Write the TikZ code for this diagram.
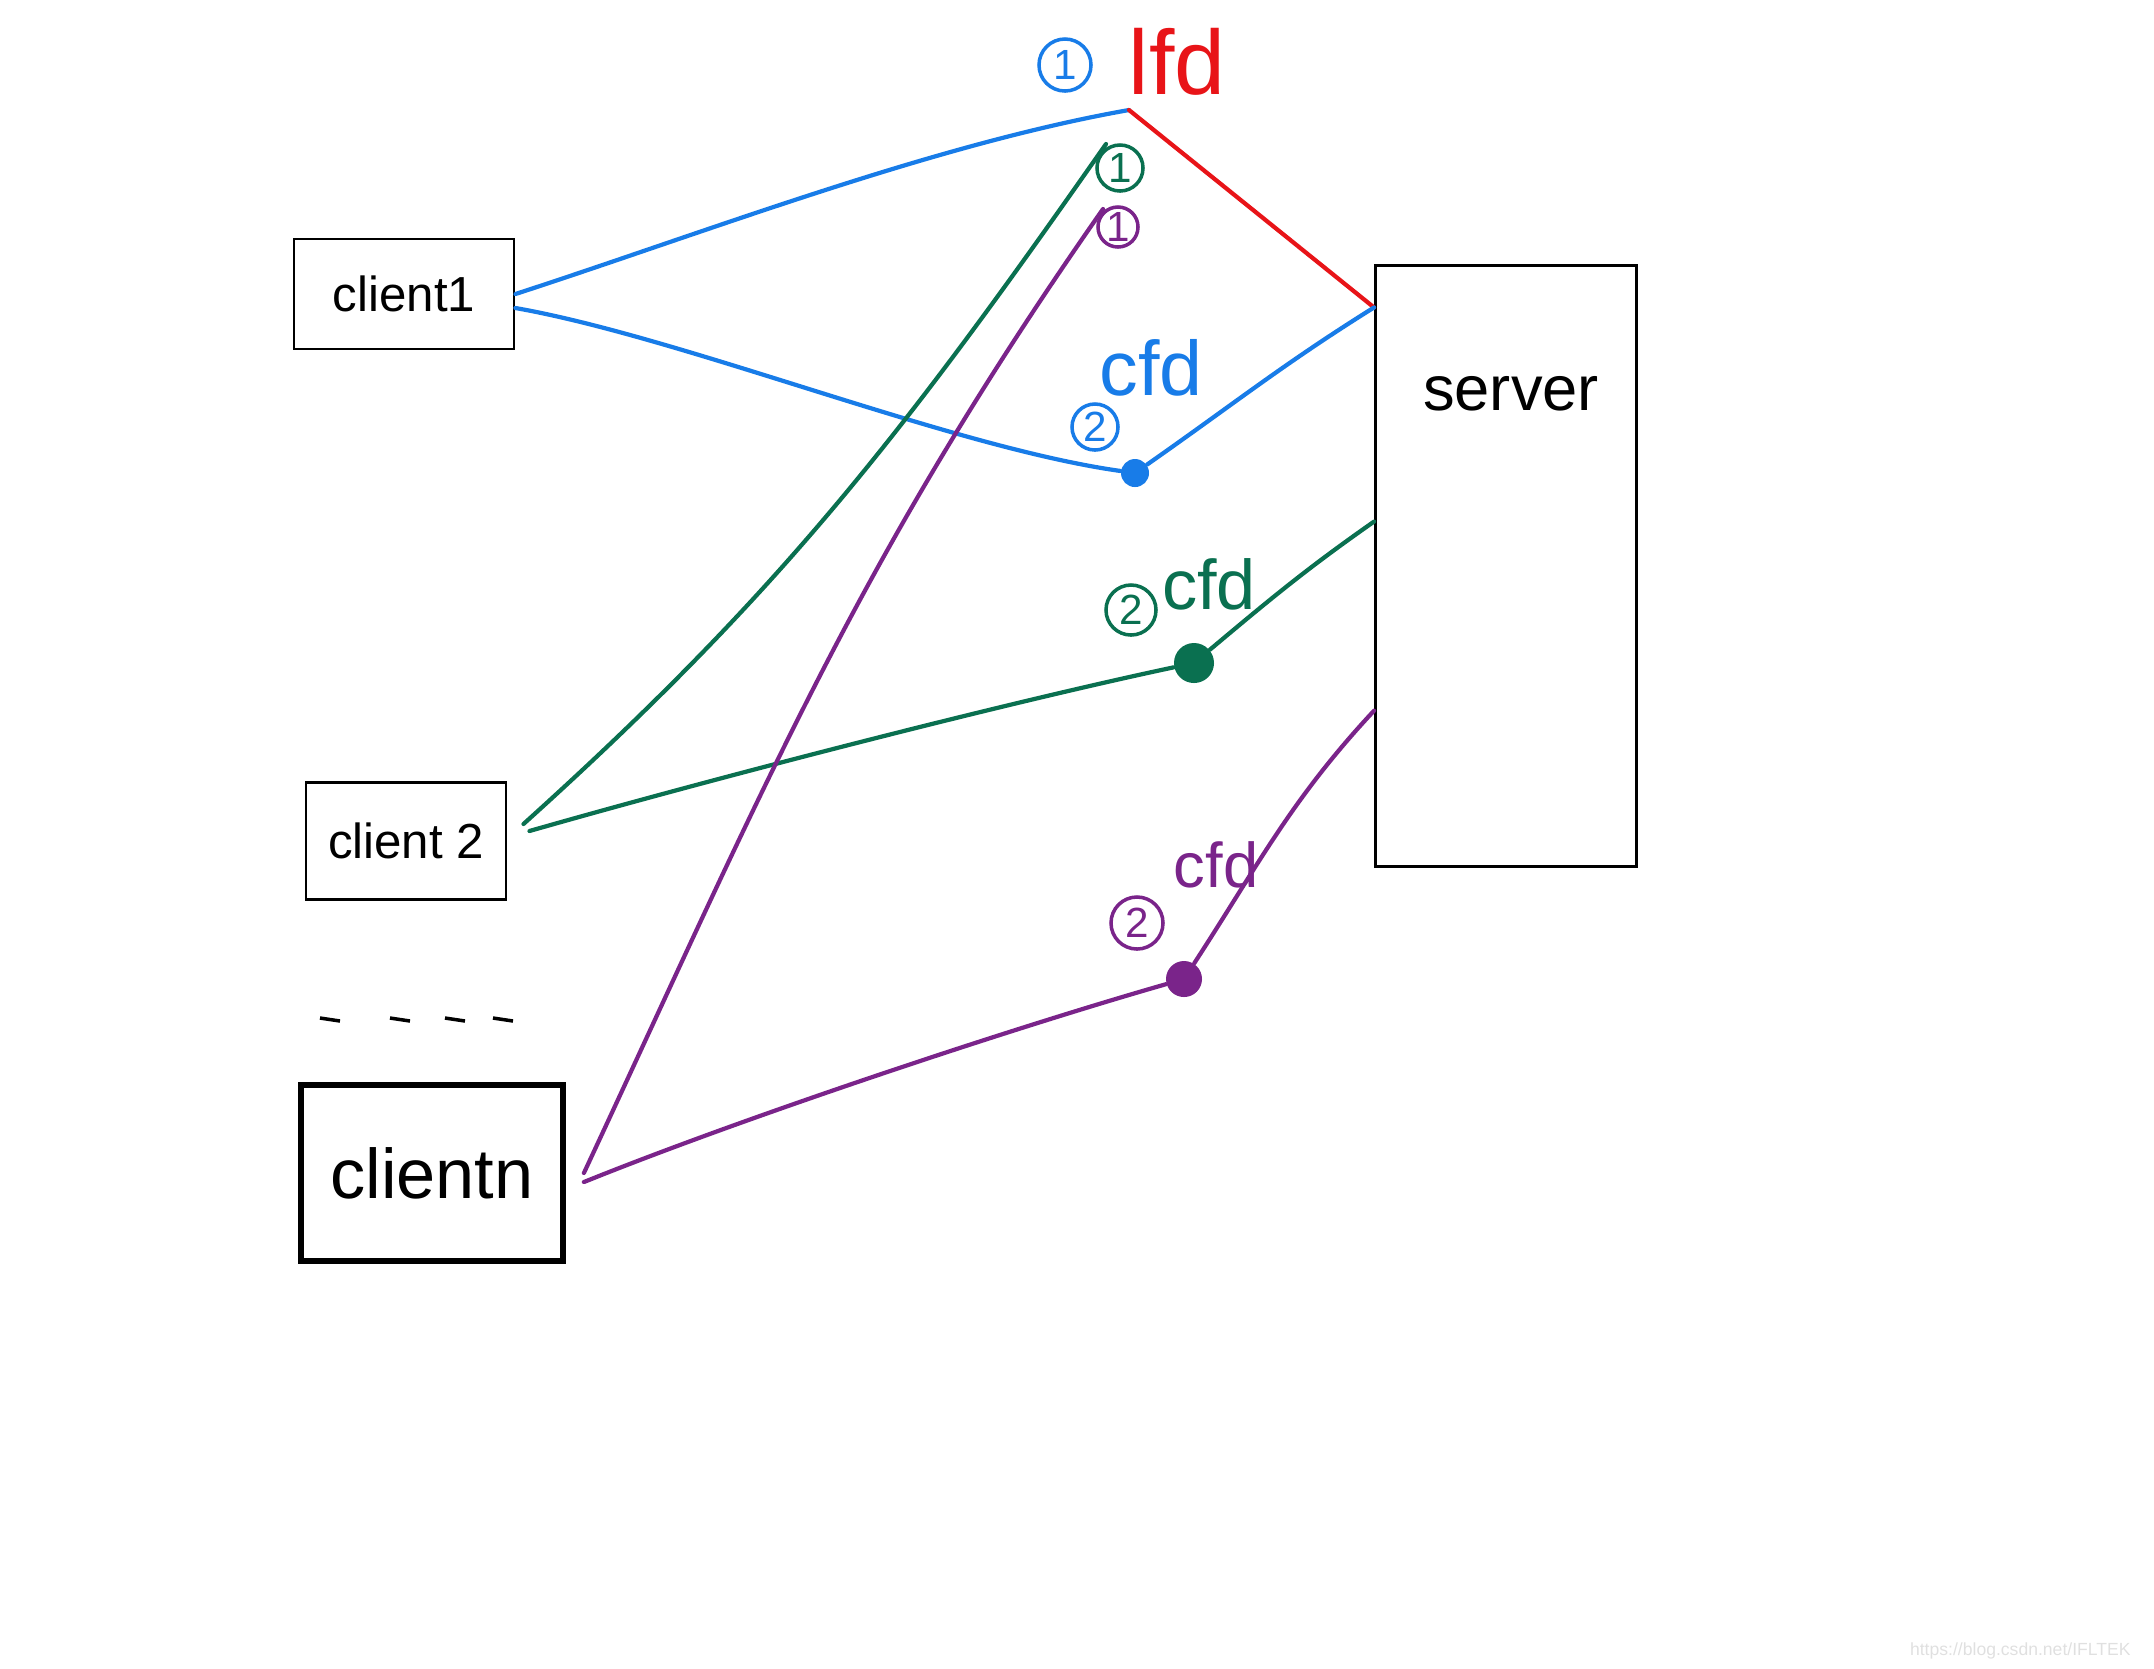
\documentclass[tikz,border=0pt]{standalone}
\usepackage{fontspec}
\setmainfont{Liberation Sans}

\definecolor{fdblue}{RGB}{24,124,232}
\definecolor{fdgreen}{RGB}{10,112,80}
\definecolor{fdpurple}{RGB}{122,36,138}
\definecolor{fdred}{RGB}{232,20,24}

\begin{document}
\begin{tikzpicture}[x=0.01cm,y=-0.01cm,
    box/.style={draw,line width=0.8pt,inner sep=0pt},
    wire/.style={line width=1.2pt,line cap=round},
    num/.style={circle,draw,line width=1pt,inner sep=0pt,minimum size=0.46cm,font=\fontsize{12}{12}\selectfont},
    dot/.style={circle,fill,inner sep=0pt}]
            \useasboundingbox (0,0) rectangle (2154,1668);
            % boxes
            \node[box,minimum width=2.2cm,minimum height=1.1cm,font=\fontsize{14}{14}\selectfont] (c1) at (404,294) {client1};
            \node[box,minimum width=2.0cm,minimum height=1.17cm,font=\fontsize{14}{14}\selectfont] (c2) at (406,841) {client 2};
            \node[box,line width=1.6pt,minimum width=2.62cm,minimum height=1.76cm,font=\fontsize{20}{20}\selectfont] (cn) at (432,1173) {clientn};
            \node[box,minimum width=2.61cm,minimum height=6.0cm] (srv) at (1506,566) {};
            \node[font=\fontsize{18}{18}\selectfont] (srvtxt) at (1511,394) {server};
            \foreach \x in {330,400,455,503}
                \draw[line width=1pt] (\x-10,1018) -- (\x+10,1021);
            % ends on the server side
            \coordinate (lfd) at (1129,110);
            \coordinate (gtop) at (1106,144);
            \coordinate (ptop) at (1103,209);
            \coordinate (s1) at ([yshift=-0.43cm]srv.north west);
            \coordinate (s2) at ([yshift=-2.57cm]srv.north west);
            \coordinate (s3) at ([yshift=-4.46cm]srv.north west);
            \node[dot,fdblue,minimum size=0.28cm] (bdot) at (1135,473) {};
            \node[dot,fdgreen,minimum size=0.4cm] (gdot) at (1194,663) {};
            \node[dot,fdpurple,minimum size=0.36cm] (pdot) at (1184,979) {};
            % labels
            \node[num,fdblue,minimum height=0.52cm] (b1) at (1065,65) {1};
            \node[fdred,font=\fontsize{26}{26}\selectfont] (lfdtxt) at (1177,62) {lfd};
            \node[num,fdgreen] (g1) at (1120,168) {1};
            \node[num,fdpurple,minimum size=0.4cm] (p1) at (1118,227) {1};
            \node[fdblue,font=\fontsize{22}{22}\selectfont] (bcfd) at (1151,368) {cfd};
            \node[num,fdblue] (b2) at (1095,427) {2};
            \node[fdgreen,font=\fontsize{20}{20}\selectfont] (gcfd) at (1209,584) {cfd};
            \node[num,fdgreen,minimum size=0.5cm] (g2) at (1131,610) {2};
            \node[fdpurple,font=\fontsize{18}{18}\selectfont] (pcfd) at (1216,865) {cfd};
            \node[num,fdpurple,minimum size=0.52cm] (p2) at (1137,923) {2};
            % client1
            \draw[wire,fdblue] (c1.east) to[out=18,in=190,looseness=0.8] (lfd);
            \draw[wire,fdblue] ([yshift=-0.14cm]c1.east) to[out=-10,in=172,looseness=0.7] (bdot);
            \draw[wire,fdred] (lfd) -- (s1);
            \draw[wire,fdblue] (bdot) to[out=35,in=212] (s1);
            % client2
            \draw[wire,fdgreen] ([xshift=0.16cm,yshift=0.17cm]c2.east) to[out=42,in=235] (gtop);
            \draw[wire,fdgreen] ([xshift=0.22cm,yshift=0.1cm]c2.east) to[out=16,in=192,looseness=0.7] (gdot);
            \draw[wire,fdgreen] (gdot) to[out=40,in=215] (s2);
            % clientn
            \draw[wire,fdpurple] ([xshift=0.18cm]cn.east) to[out=65,in=235] (ptop);
            \draw[wire,fdpurple] ([xshift=0.18cm,yshift=-0.09cm]cn.east) to[out=22,in=196,looseness=0.7] (pdot);
            \draw[wire,fdpurple] (pdot) to[out=57,in=227] (s3);
            \node[text=black!12,font=\fontsize{5}{5}\selectfont,anchor=east] (wm) at (2143,1651) {https://blog.csdn.net/IFLTEK};
        \end{tikzpicture}
\end{document}
